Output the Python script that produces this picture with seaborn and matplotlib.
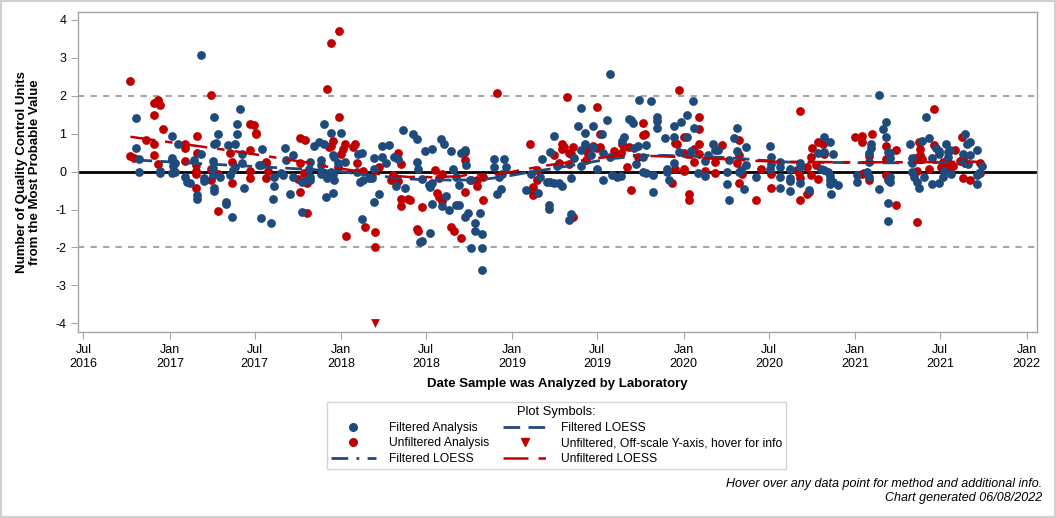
import numpy as np
import pandas as pd
import seaborn as sns
import matplotlib.pyplot as plt
import matplotlib.dates as mdates
from matplotlib.lines import Line2D

# fechas en año decimal, valores en unidades de control
filt_year = [
    2016.80, 2016.80, 2016.82, 2016.82, 2016.94, 2016.94, 2017.01, 2017.01, 2017.01, 2017.02,
    2017.03, 2017.01, 2017.03, 2017.05, 2017.09, 2017.10, 2017.12, 2017.14, 2017.16, 2017.16,
    2017.18, 2017.18, 2017.20, 2017.20, 2017.25, 2017.25, 2017.25, 2017.26, 2017.26, 2017.26,
    2017.28, 2017.26, 2017.27, 2017.29, 2017.33, 2017.33, 2017.34, 2017.36, 2017.35, 2017.37,
    2017.38, 2017.39, 2017.39, 2017.38, 2017.41, 2017.43, 2017.42, 2017.42, 2017.54, 2017.52,
    2017.53, 2017.53, 2017.59, 2017.60, 2017.61, 2017.61, 2017.65, 2017.66, 2017.67, 2017.68,
    2017.70, 2017.72, 2017.72, 2017.77, 2017.77, 2017.78, 2017.82, 2017.82, 2017.82, 2017.81,
    2017.84, 2017.87, 2017.90, 2017.90, 2017.88, 2017.88, 2017.88, 2017.91, 2017.95, 2017.94,
    2018.00, 2017.95, 2017.96, 2017.98, 2017.94, 2017.93, 2017.95, 2017.96, 2017.92, 2018.02,
    2018.10, 2018.12, 2018.09, 2018.11, 2018.13, 2018.16, 2018.12, 2018.19, 2018.19, 2018.18,
    2018.19, 2018.22, 2018.24, 2018.28, 2018.24, 2018.26, 2018.31, 2018.33, 2018.32, 2018.37,
    2018.36, 2018.42, 2018.44, 2018.44, 2018.45, 2018.47, 2018.49, 2018.53, 2018.51, 2018.52,
    2018.53, 2018.46, 2018.47, 2018.52, 2018.53, 2018.58, 2018.60, 2018.61, 2018.59, 2018.63,
    2018.64, 2018.65, 2018.67, 2018.67, 2018.69, 2018.69, 2018.70, 2018.72, 2018.73, 2018.75,
    2018.72, 2018.74, 2018.76, 2018.78, 2018.81, 2018.78, 2018.82, 2018.82, 2018.82, 2018.89,
    2018.89, 2018.91, 2018.92, 2018.95, 2018.96, 2018.94, 2018.93, 2019.08, 2019.11, 2019.15,
    2019.16, 2019.17, 2019.21, 2019.21, 2019.20, 2019.22, 2019.24, 2019.27, 2019.29, 2019.22,
    2019.24, 2019.26, 2019.34, 2019.33, 2019.34, 2019.36, 2019.38, 2019.40, 2019.42, 2019.42,
    2019.40, 2019.40, 2019.47, 2019.46, 2019.47, 2019.49, 2019.52, 2019.53, 2019.55, 2019.57,
    2019.57, 2019.53, 2019.58, 2019.61, 2019.63, 2019.65, 2019.64, 2019.68, 2019.69, 2019.70,
    2019.71, 2019.73, 2019.76, 2019.72, 2019.74, 2019.78, 2019.76, 2019.78, 2019.81, 2019.82,
    2019.82, 2019.84, 2019.84, 2019.84, 2019.89, 2019.90, 2019.90, 2019.91, 2019.94, 2019.94,
    2019.94, 2019.97, 2019.98, 2020.02, 2020.02, 2020.05, 2020.06, 2020.04, 2020.08, 2020.12,
    2020.14, 2020.17, 2020.18, 2020.20, 2020.12, 2020.25, 2020.26, 2020.25, 2020.26, 2020.29,
    2020.31, 2020.31, 2020.32, 2020.33, 2020.36, 2020.35, 2020.36, 2020.42, 2020.50, 2020.51,
    2020.51, 2020.50, 2020.56, 2020.56, 2020.56, 2020.56, 2020.62, 2020.62, 2020.62, 2020.62,
    2020.68, 2020.68, 2020.68, 2020.73, 2020.78, 2020.80, 2020.82, 2020.84, 2020.85, 2020.82,
    2020.85, 2020.82, 2020.87, 2020.85, 2020.87, 2020.90, 2020.86, 2020.85, 2021.01, 2021.01,
    2021.07, 2021.08, 2021.08, 2021.08, 2021.09, 2021.09, 2021.14, 2021.14, 2021.16, 2021.18,
    2021.18, 2021.19, 2021.19, 2021.19, 2021.19, 2021.20, 2021.20, 2021.20, 2021.20, 2021.32,
    2021.33, 2021.33, 2021.34, 2021.36, 2021.37, 2021.33, 2021.39, 2021.43, 2021.41, 2021.40,
    2021.45, 2021.49, 2021.45, 2021.47, 2021.49, 2021.49, 2021.53, 2021.54, 2021.55, 2021.54,
    2021.51, 2021.52, 2021.56, 2021.63, 2021.64, 2021.65, 2021.67, 2021.67, 2021.64, 2021.66,
    2021.71, 2021.71, 2021.71, 2021.72, 2021.74,
]
filt_value = [
    1.40, 0.61, 0.32, -0.02, 0.02, -0.03, 0.93, 0.37, 0.30, 0.15,
    0.22, -0.03, -0.02, 0.72, -0.15, -0.27, -0.31, 0.30, -0.61, -0.72,
    3.08, 0.46, -0.18, -0.24, 0.29, 0.10, -0.09, -0.44, -0.50, 1.45,
    1.00, 0.72, 0.76, -0.14, -0.79, -0.86, 0.70, -1.20, -0.09, 0.04,
    0.13, 1.25, 1.00, 0.74, 1.64, -0.44, 0.47, 0.22, 0.59, 0.18,
    0.18, -1.23, -1.36, -0.73, -0.38, -0.15, -0.05, -0.09, 0.61, 0.30,
    -0.58, 0.43, -0.15, -1.07, -0.27, -0.25, -0.22, -0.15, 0.26, 0.08,
    0.67, 0.77, 0.72, 1.25, 0.30, 0.17, -0.07, -0.68, -0.57, 1.03,
    1.03, 0.44, 0.39, 0.22, 0.00, -0.05, -0.07, -0.23, -0.18, 0.24,
    0.46, 0.48, 0.00, -0.27, -0.22, -0.18, -1.26, 0.35, 0.08, -0.18,
    -0.81, -0.60, 0.67, 0.69, 0.38, 0.22, 0.39, 0.32, -0.38, -0.42,
    1.09, 0.98, 0.87, 0.26, 0.08, -0.20, 0.53, 0.59, -0.36, -0.40,
    -0.30, -1.85, -1.83, -1.63, -0.86, 0.87, 0.72, -0.65, -0.92, -1.00,
    0.53, 0.08, -0.14, -0.87, -0.87, -0.36, 0.48, 0.57, 0.17, -0.23,
    -1.21, -1.10, -2.02, -1.35, -1.08, -1.56, -1.65, -2.02, -2.59, 0.13,
    0.33, -0.60, -0.14, 0.33, 0.13, -0.07, -0.46, -0.49, -0.07, -0.56,
    -0.14, 0.33, -0.87, -0.99, -0.27, -0.28, -0.29, -0.31, -0.38, 0.52,
    0.93, 0.15, -0.18, -1.28, -1.12, 0.35, 1.20, 1.67, 1.03, 0.73,
    0.58, 0.16, 1.21, 0.44, 0.66, 0.08, 0.98, 0.48, 1.36, 2.57,
    0.39, -0.23, -0.10, -0.14, -0.12, 0.92, 0.81, 1.39, 1.36, 1.27,
    0.61, 0.67, 0.39, 0.20, 1.89, 0.70, 0.00, -0.03, 1.86, -0.09,
    -0.55, 1.45, 1.34, 1.14, 0.88, 0.08, 0.00, -0.21, 1.20, 0.90,
    0.22, 0.52, 1.30, 1.50, 0.90, 1.85, 1.15, 0.55, -0.05, -0.11,
    0.44, 0.73, 0.57, 0.57, 0.29, -0.01, 0.30, -0.33, -0.74, 0.88,
    1.15, 0.54, 0.00, 0.04, 0.17, -0.47, 0.64, -0.15, 0.67, 0.39,
    0.20, 0.08, 0.26, 0.13, -0.15, -0.44, 0.08, -0.18, -0.25, -0.52,
    0.22, 0.13, -0.31, -0.49, 0.48, 0.08, 0.04, 0.00, -0.11, 0.90,
    0.77, 0.52, 0.46, -0.22, -0.27, -0.36, -0.60, -0.33, -0.09, -0.27,
    0.00, -0.14, 0.26, 0.48, 0.74, 0.61, -0.47, 2.01, 1.11, 0.90,
    1.30, 0.52, -0.22, -0.84, -1.31, 0.48, 0.35, -0.14, -0.27, 0.72,
    0.22, 0.00, -0.14, -0.27, -0.42, 0.37, 0.81, 0.88, 1.45, -0.15,
    -0.33, -0.31, 0.35, 0.61, 0.55, 0.46, 0.72, 0.52, 0.57, 0.39,
    -0.14, 0.02, -0.07, 0.46, 1.00, 0.74, 0.77, 0.43, 0.22, 0.19,
    0.56, -0.09, -0.33, -0.05, 0.15,
]

unf_year = [
    2016.77, 2016.77, 2016.79, 2016.91, 2016.93, 2016.94, 2016.93, 2016.91, 2016.96, 2016.86,
    2016.91, 2016.91, 2016.93, 2017.16, 2017.09, 2017.09, 2017.09, 2017.16, 2017.15, 2017.15,
    2017.15, 2017.15, 2017.24, 2017.24, 2017.24, 2017.28, 2017.28, 2017.35, 2017.36, 2017.36,
    2017.47, 2017.49, 2017.50, 2017.50, 2017.47, 2017.47, 2017.47, 2017.56, 2017.56, 2017.56,
    2017.57, 2017.76, 2017.79, 2017.76, 2017.78, 2017.75, 2017.80, 2017.76, 2017.80, 2017.92,
    2017.94, 2017.99, 2017.99, 2017.95, 2017.94, 2017.93, 2018.02, 2018.01, 2018.00, 2017.98,
    2018.08, 2018.07, 2018.09, 2018.13, 2018.03, 2018.14, 2018.20, 2018.20, 2018.22, 2018.33,
    2018.35, 2018.29, 2018.33, 2018.30, 2018.35, 2018.35, 2018.40, 2018.39, 2018.44, 2018.45,
    2018.47, 2018.55, 2018.57, 2018.59, 2018.56, 2018.57, 2018.59, 2018.59, 2018.64, 2018.66,
    2018.70, 2018.72, 2018.72, 2018.72, 2018.76, 2018.79, 2018.79, 2018.83, 2018.83, 2018.91,
    2019.10, 2019.12, 2019.12, 2019.11, 2019.14, 2019.14, 2019.24, 2019.27, 2019.29, 2019.30,
    2019.29, 2019.32, 2019.33, 2019.34, 2019.35, 2019.33, 2019.35, 2019.43, 2019.44, 2019.44,
    2019.47, 2019.49, 2019.51, 2019.51, 2019.49, 2019.59, 2019.63, 2019.64, 2019.65, 2019.68,
    2019.67, 2019.69, 2019.73, 2019.76, 2019.76, 2019.77, 2019.95, 2019.96, 2019.97, 2019.95,
    2020.00, 2020.00, 2020.00, 2020.00, 2019.93, 2020.03, 2020.03, 2020.06, 2020.06, 2020.09,
    2020.09, 2020.09, 2020.09, 2020.12, 2020.18, 2020.18, 2020.22, 2020.32, 2020.32, 2020.31,
    2020.32, 2020.34, 2020.42, 2020.45, 2020.51, 2020.51, 2020.66, 2020.67, 2020.68, 2020.68,
    2020.68, 2020.72, 2020.72, 2020.73, 2020.74, 2020.75, 2020.78, 2020.81, 2020.82, 2020.74,
    2020.77, 2020.78, 2021.00, 2021.04, 2021.10, 2021.04, 2021.04, 2021.05, 2021.08, 2021.08,
    2021.18, 2021.18, 2021.18, 2021.24, 2021.24, 2021.36, 2021.37, 2021.38, 2021.38, 2021.39,
    2021.35, 2021.36, 2021.43, 2021.46, 2021.46, 2021.50, 2021.51, 2021.52, 2021.54, 2021.55,
    2021.57, 2021.58, 2021.61, 2021.62, 2021.63, 2021.63, 2021.67, 2021.64, 2021.73, 2021.73,
]
unf_value = [
    2.38, 0.41, 0.35, 1.80, 1.88, 1.75, 1.85, 1.48, 1.11, 0.82,
    0.74, 0.43, 0.21, 0.93, 0.73, 0.61, 0.27, 0.50, 0.17, 0.01,
    -0.07, -0.42, 2.01, 0.06, -0.23, -0.07, -1.04, 0.50, 0.24, -0.31,
    1.25, 1.22, 1.03, 0.99, 0.56, 0.02, -0.18, 0.26, 0.22, -0.18,
    0.01, 0.88, 0.83, 0.23, -0.05, -0.20, -0.31, -0.55, -1.10, 2.17,
    3.38, 3.70, 1.43, 0.80, 0.67, 0.65, 0.72, 0.59, 0.46, 0.13,
    0.74, 0.65, 0.23, 0.01, -1.69, -1.45, -1.60, -2.00, 0.13, 0.48,
    0.19, -0.23, -0.25, -0.09, -0.72, -0.90, -0.75, -0.73, -1.52, -1.56,
    -0.93, 0.04, -0.18, -0.07, -0.57, -0.66, -0.71, -0.78, -1.45, -1.56,
    -1.74, 0.51, 0.30, -0.55, -0.23, -0.23, -0.38, -0.15, -0.74, 2.06,
    0.73, -0.40, -0.62, -0.49, -0.22, 0.04, 0.43, 0.23, 0.74, 0.66,
    0.59, 1.96, 0.50, 0.46, 0.64, 0.19, -1.21, 0.30, 0.46, 0.63,
    0.68, 1.70, 1.00, 0.66, 0.61, 0.55, 0.48, 0.72, 0.66, 0.66,
    0.13, -0.49, 0.39, 1.27, 0.96, 1.00, 0.76, 0.73, 2.14, 0.06,
    0.92, 0.48, 0.08, 0.02, -0.29, -0.60, -0.74, 0.59, 0.26, 1.43,
    1.11, 0.73, 0.46, 0.02, 0.26, -0.05, 0.69, 0.83, 0.44, 0.23,
    -0.31, -0.07, -0.74, 0.06, -0.07, -0.44, 0.04, -0.05, -0.18, 1.60,
    -0.76, 0.11, -0.58, -0.53, 0.39, 0.61, 0.77, 0.72, 0.46, -0.09,
    0.17, -0.20, 0.90, 0.94, 0.98, 0.77, -0.07, -0.05, -0.22, 0.42,
    0.67, 0.34, -0.10, 0.56, -0.87, -1.34, 0.77, 0.60, 0.44, 0.32,
    0.35, 0.01, 0.06, 1.64, 0.69, 0.13, 0.24, 0.10, 0.24, 0.13,
    0.15, 0.56, 0.29, 0.90, 0.33, -0.18, -0.23, 0.22, 0.22, -0.03,
]

# punto fuera de escala (se dibuja en el borde inferior)
offscale_year = [2018.20]
offscale_value = [-4.0]

BLUE = "#1f4a7c"
RED = "#c00000"


def to_date(years):
    years = np.asarray(years, dtype=float)
    return pd.Timestamp("2017-01-01") + pd.to_timedelta((years - 2017) * 365.25, unit="D")


def loess(x, y, frac=0.45, n=150):
    x = np.asarray(x, dtype=float)
    y = np.asarray(y, dtype=float)
    xs = np.linspace(x.min(), x.max(), n)
    k = int(np.ceil(frac * len(x)))
    fit = []
    for x0 in xs:
        d = np.abs(x - x0)
        h = np.sort(d)[k - 1]
        w = np.clip(1 - (d / h) ** 3, 0, None) ** 3
        A = np.vstack([np.ones_like(x), x - x0]).T
        sw = np.sqrt(w)
        beta = np.linalg.lstsq(A * sw[:, None], y * sw, rcond=None)[0]
        fit.append(beta[0])
    return xs, np.array(fit)


filt = pd.DataFrame({"date": to_date(filt_year), "value": filt_value})
unf = pd.DataFrame({"date": to_date(unf_year), "value": unf_value})
off = pd.DataFrame({"date": to_date(offscale_year), "value": offscale_value})

sns.set_style("white")
plt.rcParams["font.family"] = ["Liberation Sans", "DejaVu Sans"]
plt.rcParams["axes.unicode_minus"] = False
plt.rcParams["text.color"] = "black"
plt.rcParams["axes.labelcolor"] = "black"

fig = plt.figure(figsize=(10.56, 5.18), dpi=100)
ax = fig.add_axes([0.074, 0.359, 0.908, 0.618])

ax.axhline(0, color="black", lw=2, zorder=1)
for yv in (2, -2):
    ax.axhline(yv, color="#a6a6a6", lw=1.5, ls=(0, (3, 3)), zorder=1)

sns.scatterplot(data=unf, x="date", y="value", color=RED, s=40, linewidth=0, ax=ax, zorder=3)
sns.scatterplot(data=filt, x="date", y="value", color=BLUE, s=40, linewidth=0, ax=ax, zorder=3)
sns.scatterplot(data=off, x="date", y="value", color=RED, marker="v", s=40, linewidth=0, ax=ax, zorder=3)

fx, fy = loess(filt_year, filt_value)
ux, uy = loess(unf_year, unf_value)
ax.plot(to_date(fx), fy, color=BLUE, lw=2, dashes=(6, 3), zorder=4)
ax.plot(to_date(ux), uy, color=RED, lw=1.8, dashes=(10, 4, 3, 4), zorder=4)

ax.set_ylim(-4.23, 4.21)
ax.set_xlim(to_date([2016.465])[0], to_date([2022.06])[0])
ax.set_yticks(range(-4, 5))
ax.xaxis.set_major_locator(mdates.MonthLocator(bymonth=[1, 7]))
ax.xaxis.set_major_formatter(mdates.DateFormatter("%b\n%Y"))
ax.tick_params(axis="both", direction="out", length=5, color="#a6a6a6",
               labelsize=9, labelcolor="black", left=True, bottom=True)

for sp in ax.spines.values():
    sp.set_color("#a6a6a6")
    sp.set_linewidth(1)

ax.set_xlabel("Date Sample was Analyzed by Laboratory", fontsize=9.5, fontweight="bold", labelpad=6)
ax.set_ylabel("Number of Quality Control Units\nfrom the Most Probable Value",
              fontsize=9.5, fontweight="bold", labelpad=10)

handles = [
    Line2D([], [], ls="none", marker="o", color=BLUE, markersize=5.5),
    Line2D([], [], ls="none", marker="o", color=RED, markersize=5.5),
    Line2D([], [], color=BLUE, lw=2, dashes=(6, 3, 1, 3)),
    Line2D([], [], color=BLUE, lw=2, dashes=(6, 3)),
    Line2D([], [], ls="none", marker="v", color=RED, markersize=5.5),
    Line2D([], [], color=RED, lw=1.8, dashes=(10, 4, 3, 4)),
]
labels = ["Filtered Analysis", "Unfiltered Analysis", "Filtered LOESS",
          "Filtered LOESS", "Unfiltered, Off-scale Y-axis, hover for info", "Unfiltered LOESS"]
leg = fig.legend(handles, labels, ncol=2, loc="upper center", bbox_to_anchor=(0.527, 0.224),
                 borderaxespad=0, title="Plot Symbols:", fontsize=8.7, title_fontsize=9.3,
                 frameon=True, fancybox=False, edgecolor="#c8c8c8", handlelength=3.7,
                 handletextpad=1.1, columnspacing=1.1, labelspacing=0.3, borderpad=0.35)
leg.get_frame().set_linewidth(1)

fig.text(0.987, 0.066, "Hover over any data point for method and additional info.",
         ha="right", va="center", fontsize=9, style="italic")
fig.text(0.987, 0.038, "Chart generated 06/08/2022", ha="right", va="center",
         fontsize=9, style="italic")

fig.patches.append(plt.Rectangle((0.001, 0.001), 0.998, 0.998, transform=fig.transFigure,
                                 fill=False, edgecolor="#d0d0d0", lw=1.5))

fig.savefig("out.png", dpi=100)
